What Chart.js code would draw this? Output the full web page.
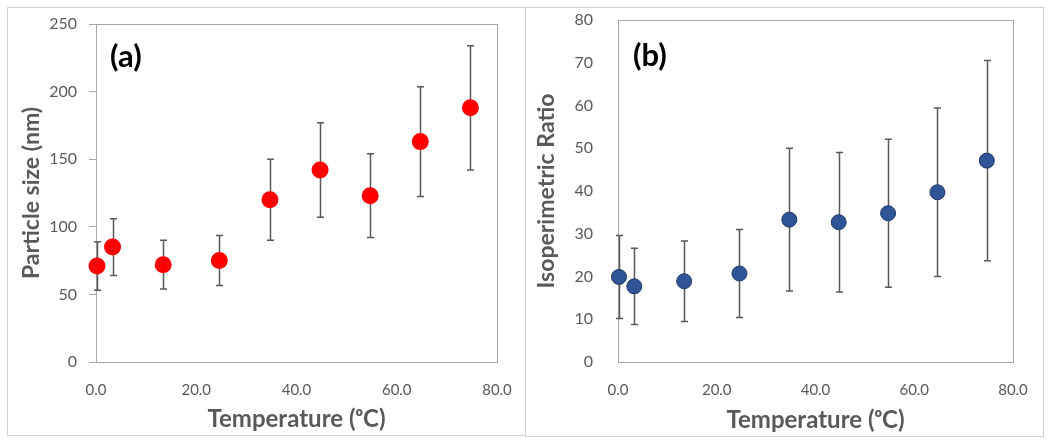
<!DOCTYPE html>
<html lang="en">
<head>
    <meta charset="UTF-8">
    <title>Particle size and isoperimetric ratio vs temperature</title>
    <script src="https://cdn.jsdelivr.net/npm/chart.js@4.4.0/dist/chart.umd.min.js"></script>
    <style>
        body { margin: 0; background: #fff; }
        .panel { position: absolute; box-sizing: border-box; border: 1px solid #d0d0d0; }
        #panel-a { left: 7px; top: 7px; width: 519px; height: 429px; }
        #panel-b { left: 525px; top: 7px; width: 519px; height: 430px; }
        canvas { display: block; }
    </style>
</head>
<body>
    <div class="panel" id="panel-a"><canvas id="chart-a" width="517" height="427"></canvas></div>
    <div class="panel" id="panel-b"><canvas id="chart-b" width="517" height="428"></canvas></div>

    <script>
        // data
        const temps = [0.2, 3.3, 13.4, 24.6, 34.7, 44.7, 54.7, 64.7, 74.7];
        const sizes = [71, 85, 72, 75, 120, 142, 123, 163, 188];
        const sizeErr = [18, 21, 18, 18.5, 30, 35, 31, 40.5, 46];
        const ratios = [19.9, 17.7, 18.9, 20.7, 33.3, 32.7, 34.8, 39.7, 47.1];
        const ratioErr = [9.7, 8.9, 9.4, 10.3, 16.7, 16.3, 17.3, 19.7, 23.4];
        const xTicks = [0, 20, 40, 60, 80];

        const FONT = "Lato, 'Open Sans', sans-serif";
        const GREY = '#595959';

        // frame around the plot area + error bars under the markers
        const errorBars = {
            id: 'errorBars',
            beforeDatasetsDraw(chart) {
                const { ctx, chartArea: a, scales: { x, y } } = chart;
                ctx.save();
                ctx.strokeStyle = '#a6a6a6';
                ctx.lineWidth = 1;
                ctx.strokeRect(Math.round(a.left) + 0.5, Math.round(a.top) + 0.5,
                    Math.round(a.right - a.left), Math.round(a.bottom - a.top));
                ctx.strokeStyle = GREY;
                ctx.lineWidth = 1.5;
                chart.data.datasets.forEach(ds => {
                    ds.data.forEach((p, i) => {
                        const px = Math.round(x.getPixelForValue(p.x)) + 0.5;
                        const top = y.getPixelForValue(p.y + ds.errors[i]);
                        const bot = y.getPixelForValue(p.y - ds.errors[i]);
                        ctx.beginPath();
                        ctx.moveTo(px, top); ctx.lineTo(px, bot);
                        ctx.moveTo(px - 3.5, top); ctx.lineTo(px + 3.5, top);
                        ctx.moveTo(px - 3.5, bot); ctx.lineTo(px + 3.5, bot);
                        ctx.stroke();
                    });
                });
                ctx.restore();
            },
            afterDatasetsDraw(chart, args, opts) {
                const { ctx, chartArea: a } = chart;
                ctx.save();
                ctx.font = 'bold 31px ' + FONT;
                ctx.fillStyle = '#000';
                ctx.textBaseline = 'middle';
                ctx.fillText(opts.text, a.left + opts.dx, a.top + opts.dy);
                ctx.restore();
            }
        };

        function makeChart(id, cfg) {
            const points = temps.map((t, i) => ({ x: t, y: cfg.values[i] }));
            return new Chart(document.getElementById(id), {
                type: 'scatter',
                data: {
                    datasets: [{
                        data: points,
                        errors: cfg.errors,
                        pointRadius: cfg.radius,
                        pointHoverRadius: cfg.radius,
                        pointBackgroundColor: cfg.fill,
                        pointBorderColor: cfg.border,
                        pointBorderWidth: cfg.borderWidth,
                        clip: false
                    }]
                },
                options: {
                    responsive: false,
                    animation: false,
                    events: [],
                    layout: { padding: { top: cfg.padTop, right: cfg.padRight, left: 0, bottom: 0 } },
                    plugins: {
                        legend: { display: false },
                        tooltip: { enabled: false },
                        errorBars: { text: cfg.label, dx: cfg.labelDx, dy: cfg.labelDy }
                    },
                    scales: {
                        x: {
                            type: 'linear',
                            min: 0, max: 80,
                            afterBuildTicks: s => { s.ticks = xTicks.map(v => ({ value: v })); },
                            afterFit: s => { s.height = cfg.xHeight; },
                            border: { display: false },
                            grid: { display: false },
                            ticks: {
                                color: GREY, padding: 11,
                                font: { family: FONT, size: 15 },
                                callback: v => v.toFixed(1)
                            },
                            title: {
                                display: true, text: 'Temperature (ᵒC)', color: GREY,
                                font: { family: FONT, size: 24, weight: 'bold' },
                                padding: { top: 0, bottom: cfg.xTitlePad }
                            }
                        },
                        y: {
                            min: 0, max: cfg.yMax,
                            afterFit: s => {
                                s.width = cfg.yWidth;
                                s.paddingTop = 0;
                                s.paddingBottom = 0;
                            },
                            border: { display: false },
                            grid: {
                                display: cfg.yTicks, drawOnChartArea: false,
                                tickLength: 7, color: '#a6a6a6'
                            },
                            ticks: {
                                stepSize: cfg.yStep, color: GREY,
                                padding: cfg.yTicks ? 12 : 18,
                                font: { family: FONT, size: 16 }
                            },
                            title: {
                                display: true, text: cfg.yTitle, color: GREY,
                                font: { family: FONT, size: 23, weight: 'bold' },
                                padding: { top: cfg.yTitlePad, bottom: 0 }
                            }
                        }
                    }
                },
                plugins: [errorBars]
            });
        }

        makeChart('chart-a', {
            values: sizes, errors: sizeErr,
            radius: 8.5, fill: '#ff0000', border: '#ff0000', borderWidth: 0,
            padTop: 16, padRight: 28, xHeight: 73, yWidth: 88,
            yMax: 250, yStep: 50, yTicks: true,
            yTitle: 'Particle size (nm)', yTitlePad: 10, xTitlePad: 1,
            label: '(a)', labelDx: 14, labelDy: 33
        });

        makeChart('chart-b', {
            values: ratios, errors: ratioErr,
            radius: 7.5, fill: '#2f5597', border: '#1f3864', borderWidth: 1,
            padTop: 12, padRight: 30, xHeight: 74, yWidth: 92,
            yMax: 80, yStep: 10, yTicks: false,
            yTitle: 'Isoperimetric Ratio', yTitlePad: 7, xTitlePad: 1,
            label: '(b)', labelDx: 15, labelDy: 36
        });
    </script>
</body>
</html>
